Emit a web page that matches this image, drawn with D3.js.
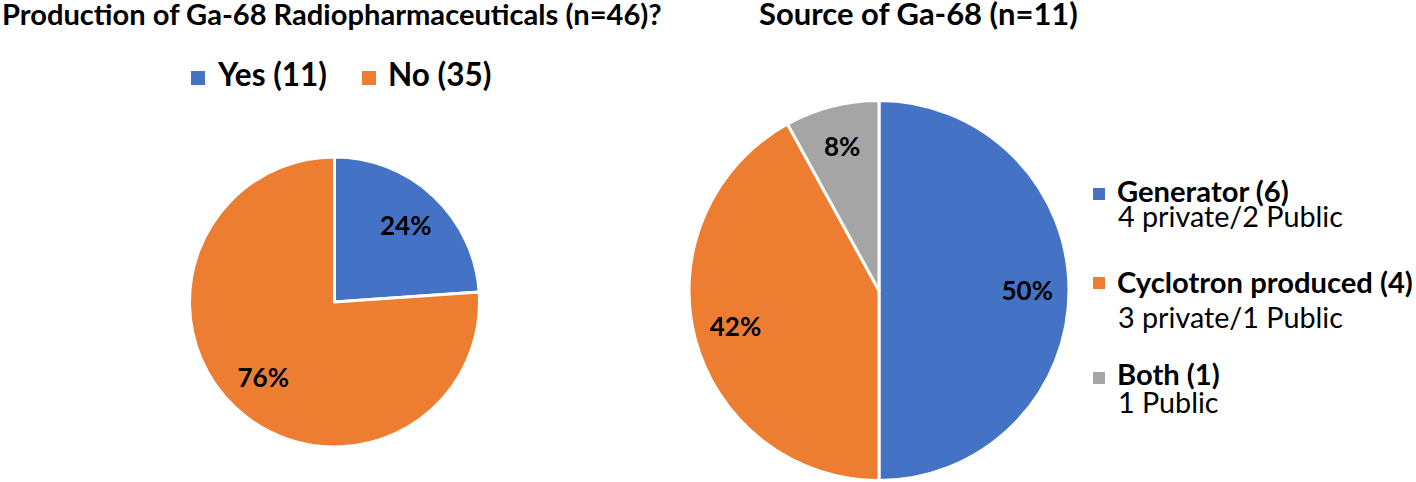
<!DOCTYPE html>
<html>
<head>
<meta charset="utf-8">
<script src="https://cdn.jsdelivr.net/npm/d3@7"></script>
<style>
  html, body { margin: 0; padding: 0; background: #fff; }
  svg { display: block; font-family: Lato, "Open Sans", sans-serif; }
</style>
</head>
<body>
<div id="chart"></div>
<script>
// --- data ---
const productionLabels = ['Yes (11)', 'No (35)'];
const productionCounts = [11, 35];

const sourceLabels = ['Generator (6)', 'Cyclotron produced (4)', 'Both (1)'];
const sourceNotes = ['4 private/2 Public', '3 private/1 Public', '1 Public'];
const sourcePercents = [50, 42, 8];

const titles = ['Production of Ga-68 Radiopharmaceuticals (n=46)?', 'Source of Ga-68 (n=11)'];

const blue = '#4472C4', orange = '#ED7D31', grey = '#A5A5A5';

const width = 1416, height = 482;

const svg = d3.select('#chart')
  .append('svg')
  .attr('width', width)
  .attr('height', height);

svg.append('rect').attr('width', width).attr('height', height).attr('fill', '#fff');

// font size that makes a text span the given width (measured with a probe)
function fitSize(str, w, weight) {
  const probe = svg.append('text')
    .style('font-size', '100px')
    .style('font-weight', weight)
    .text(str);
  const len = probe.node().getComputedTextLength();
  probe.remove();
  return 100 * w / len;
}

// Titles
svg.append('text')
  .attr('x', 2).attr('y', 25)
  .style('font-size', fitSize(titles[0], 660, 'bold') + 'px')
  .style('font-weight', 'bold')
  .text(titles[0]);

svg.append('text')
  .attr('x', 759).attr('y', 25)
  .style('font-size', fitSize(titles[1], 319, 'bold') + 'px')
  .style('font-weight', 'bold')
  .text(titles[1]);

// --- left pie ---
const pie = d3.pie().sort(null).value(d => d);

const left = svg.append('g').attr('transform', 'translate(334.5,302)');
const r1 = 145;
const arc1 = d3.arc().innerRadius(0).outerRadius(r1);
const label1 = d3.arc().innerRadius(r1 * 0.72).outerRadius(r1 * 0.72);
const total1 = d3.sum(productionCounts);
const colors1 = [blue, orange];

const arcs1 = pie(productionCounts);
left.selectAll('path')
  .data(arcs1)
  .enter()
  .append('path')
  .attr('d', arc1)
  .attr('fill', (d, i) => colors1[i])
  .attr('stroke', '#fff')
  .attr('stroke-width', 3)
  .attr('stroke-linejoin', 'round');

left.selectAll('text')
  .data(arcs1)
  .enter()
  .append('text')
  .attr('transform', d => `translate(${label1.centroid(d)})`)
  .attr('text-anchor', 'middle')
  .attr('dy', '0.35em')
  .style('font-size', '26px')
  .style('font-weight', 'bold')
  .text(d => Math.round(d.value / total1 * 100) + '%');

// legend above left pie
const leg1Size = fitSize(productionLabels[0], 109, 'bold');
const legend1 = [{ sq: 191, tx: 218 }, { sq: 362, tx: 388 }];
legend1.forEach((p, i) => {
  svg.append('rect')
    .attr('x', p.sq).attr('y', 71)
    .attr('width', 14).attr('height', 14)
    .attr('fill', colors1[i]);
  svg.append('text')
    .attr('x', p.tx).attr('y', 86)
    .style('font-size', leg1Size + 'px').style('font-weight', 'bold')
    .text(productionLabels[i]);
});

// --- right pie ---
const right = svg.append('g').attr('transform', 'translate(879,290.5)');
const r2 = 190;
const arc2 = d3.arc().innerRadius(0).outerRadius(r2);
const label2 = d3.arc().innerRadius(r2 * 0.78).outerRadius(r2 * 0.78);
const colors2 = [blue, orange, grey];

const arcs2 = pie(sourcePercents);
right.selectAll('path')
  .data(arcs2)
  .enter()
  .append('path')
  .attr('d', arc2)
  .attr('fill', (d, i) => colors2[i])
  .attr('stroke', '#fff')
  .attr('stroke-width', 3)
  .attr('stroke-linejoin', 'round');

right.selectAll('text')
  .data(arcs2)
  .enter()
  .append('text')
  .attr('transform', d => `translate(${label2.centroid(d)})`)
  .attr('text-anchor', 'middle')
  .attr('dy', '0.35em')
  .style('font-size', '26px')
  .style('font-weight', 'bold')
  .text(d => d.value + '%');

// legend to the right: one size for the bold names, one for the notes
const nameSize = fitSize(sourceLabels[1], 296, 'bold');
const noteSize = fitSize(sourceNotes[0], 225, 'normal');
const legend2 = [
  { sqY: 188, y1: 202, y2: 227 },
  { sqY: 277, y1: 293, y2: 328 },
  { sqY: 372, y1: 385, y2: 413 }
];
legend2.forEach((p, i) => {
  svg.append('rect')
    .attr('x', 1093).attr('y', p.sqY)
    .attr('width', 12).attr('height', 12)
    .attr('fill', colors2[i]);
  svg.append('text')
    .attr('x', 1117).attr('y', p.y1)
    .style('font-size', nameSize + 'px').style('font-weight', 'bold')
    .text(sourceLabels[i]);
  svg.append('text')
    .attr('x', 1118).attr('y', p.y2)
    .style('font-size', noteSize + 'px')
    .text(sourceNotes[i]);
});
</script>
</body>
</html>
